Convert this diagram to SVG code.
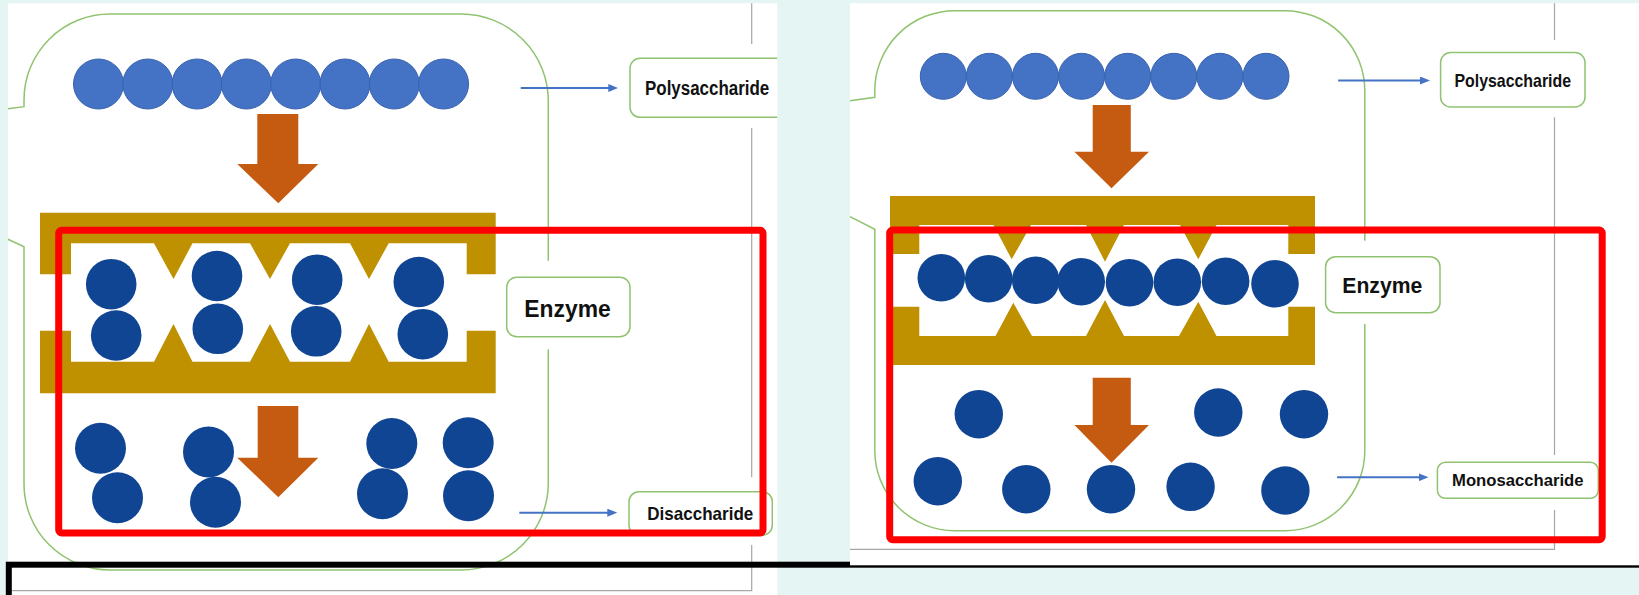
<svg xmlns="http://www.w3.org/2000/svg" width="1639" height="595" viewBox="0 0 1639 595">
  <style>
    .panel { fill: #ffffff; }
    .frame { stroke: #a6a6a6; stroke-width: 1.2; fill: none; }
    .callout { stroke: #8fc36f; stroke-width: 1.5; fill: none; }
    .label { fill: #ffffff; stroke: #8fc36f; stroke-width: 1.5; }
    .txt { font-family: "Liberation Sans", Arial, sans-serif; font-weight: bold; fill: #111111; }
    .poly { fill: #4472c4; stroke: #3862ad; stroke-width: 1; }
    .dark { fill: #104594; }
    .enzyme { fill: #bf9000; }
    .flow { fill: #c55a11; }
    .link { stroke: #4472c4; stroke-width: 2; fill: none; marker-end: url(#tip); }
    .focus { fill: none; stroke: #ff0000; stroke-width: 7; stroke-linejoin: round; }
  </style>
  <defs>
    <marker id="tip" viewBox="0 0 10 8" refX="4" refY="4" markerWidth="10" markerHeight="8" markerUnits="userSpaceOnUse" orient="auto">
      <path d="M0,0 L10,4 L0,8 Z" fill="#4472c4"/>
    </marker>
  </defs>

  <!-- page background -->
  <rect x="0" y="0" width="1639" height="595" fill="#e5f5f4"/>

  <!-- ===== left panel: polysaccharide to disaccharide ===== -->
  <rect class="panel" x="8" y="3.3" width="769.3" height="591.7"/>
  <g id="left-frame" class="frame">
    <path d="M751.7,3.3 V44 M751.7,128 V477.3 M751.7,545 V590.7 H11.7"/>
  </g>
  <g id="left-callout" class="callout">
    <path d="M548.3,260.7 V101 A87,87 0 0 0 461.3,14 H110 A86,86 0 0 0 24,100 V106.7 L8,108.7"/>
    <path d="M8,239.3 L24,246.7 V484 A86,86 0 0 0 110,570 H461.3 A87,87 0 0 0 548.3,483 V349.3"/>
  </g>

  <g id="left-polysaccharide-label">
    <path class="label" d="M777.3,58.3 H640 A10,10 0 0 0 630,68.3 V107.3 A10,10 0 0 0 640,117.3 H777.3"/>
    <text class="txt" x="645" y="95" font-size="19.5" textLength="124.3" lengthAdjust="spacingAndGlyphs">Polysaccharide</text>
  </g>
  <g id="left-enzyme-label">
    <rect class="label" x="506.7" y="277.3" width="123.3" height="59.4" rx="10"/>
    <text class="txt" x="524.3" y="316.7" font-size="24" textLength="86.4" lengthAdjust="spacingAndGlyphs">Enzyme</text>
  </g>
  <g id="left-disaccharide-label">
    <rect class="label" x="629" y="491.7" width="143.3" height="43.5" rx="10"/>
    <text class="txt" x="647.3" y="520" font-size="18.5" textLength="106" lengthAdjust="spacingAndGlyphs">Disaccharide</text>
  </g>

  <g id="left-chain">
    <circle class="poly" cx="98.5" cy="84" r="25"/>
    <circle class="poly" cx="147.8" cy="84" r="25"/>
    <circle class="poly" cx="197.1" cy="84" r="25"/>
    <circle class="poly" cx="246.4" cy="84" r="25"/>
    <circle class="poly" cx="295.7" cy="84" r="25"/>
    <circle class="poly" cx="345" cy="84" r="25"/>
    <circle class="poly" cx="394.3" cy="84" r="25"/>
    <circle class="poly" cx="443.6" cy="84" r="25"/>
  </g>
  <g id="left-step-1">
    <path class="flow" d="M257.3,114 H298.3 V164 H318.3 L278.3,203.3 L237.3,164 H257.3 Z"/>
  </g>
  <g id="left-enzyme">
    <path class="enzyme" d="M40,212.7 H495.7 V274.3 H466.7 V243.3 H388.7 L369,279 L350,243.3 H290 L270,279 L250,243.3 H192.5 L173.5,279 L154,243.3 H71 V274.3 H40 Z"/>
    <path class="enzyme" d="M40,330.7 H71 V361.7 H154 L173.5,324 L192.5,361.7 H250 L270,324 L290,361.7 H350 L369,324 L388.7,361.7 H466.7 V330.7 H495.7 V393.3 H40 Z"/>
  </g>
  <g id="left-bound-pairs">
    <circle class="dark" cx="111.2" cy="284.2" r="25.3"/>
    <circle class="dark" cx="116.2" cy="335.5" r="25.3"/>
    <circle class="dark" cx="217" cy="276" r="25.3"/>
    <circle class="dark" cx="217.8" cy="328.8" r="25.3"/>
    <circle class="dark" cx="317.2" cy="279.7" r="25.3"/>
    <circle class="dark" cx="316.2" cy="331.3" r="25.3"/>
    <circle class="dark" cx="418.8" cy="282" r="25.3"/>
    <circle class="dark" cx="422.8" cy="334.2" r="25.3"/>
  </g>
  <g id="left-step-2">
    <path class="flow" d="M257.7,406 H298.3 V457.7 H318.3 L278.3,497.3 L237.3,457.7 H257.7 Z"/>
  </g>
  <g id="left-free-pairs">
    <circle class="dark" cx="100.5" cy="448.3" r="25.5"/>
    <circle class="dark" cx="117.5" cy="497.8" r="25.5"/>
    <circle class="dark" cx="208.5" cy="452" r="25.5"/>
    <circle class="dark" cx="215.5" cy="502.2" r="25.5"/>
    <circle class="dark" cx="391.8" cy="443.5" r="25.5"/>
    <circle class="dark" cx="382.5" cy="493.8" r="25.5"/>
    <circle class="dark" cx="468.2" cy="442.8" r="25.5"/>
    <circle class="dark" cx="468.5" cy="495.8" r="25.5"/>
  </g>

  <g id="left-connectors">
    <line class="link" x1="520.7" y1="88" x2="612.3" y2="88"/>
    <line class="link" x1="519.3" y1="512.7" x2="611.3" y2="512.7"/>
  </g>

  <rect id="left-highlight" class="focus" x="58.7" y="230.3" width="704.3" height="302.7" rx="3"/>

  <!-- outline across the lower edge -->
  <rect id="lower-outline" x="8.8" y="564.7" width="1700" height="100" fill="none" stroke="#000000" stroke-width="6"/>

  <!-- ===== right panel: polysaccharide to monosaccharide ===== -->
  <rect class="panel" x="850" y="3.3" width="789" height="562"/>
  <g id="right-frame" class="frame">
    <path d="M1554.5,3.3 V40 M1554.5,117.3 V455 M1554.5,510 V549.3 H850"/>
  </g>
  <g id="right-callout" class="callout">
    <path d="M1364.8,240.7 V90.7 A80,80 0 0 0 1284.8,10.7 H954.8 A80,80 0 0 0 874.8,90.7 V97.3 L850,100.7"/>
    <path d="M850,216.7 L874.8,229.3 V450.7 A80,80 0 0 0 954.8,530.7 H1284.8 A80,80 0 0 0 1364.8,450.7 V324"/>
  </g>

  <g id="right-polysaccharide-label">
    <rect class="label" x="1440.6" y="52.5" width="144.4" height="54.4" rx="10"/>
    <text class="txt" x="1454.5" y="86.7" font-size="18.5" textLength="116.5" lengthAdjust="spacingAndGlyphs">Polysaccharide</text>
  </g>
  <g id="right-enzyme-label">
    <rect class="label" x="1325.6" y="256.7" width="114.4" height="56" rx="10"/>
    <text class="txt" x="1342.3" y="293.3" font-size="22" textLength="80" lengthAdjust="spacingAndGlyphs">Enzyme</text>
  </g>
  <g id="right-monosaccharide-label">
    <rect class="label" x="1437.4" y="462.3" width="160.9" height="36" rx="8"/>
    <text class="txt" x="1452" y="486" font-size="16.5" textLength="131.6" lengthAdjust="spacingAndGlyphs">Monosaccharide</text>
  </g>

  <g id="right-chain">
    <circle class="poly" cx="943.3" cy="76.3" r="23"/>
    <circle class="poly" cx="989.4" cy="76.3" r="23"/>
    <circle class="poly" cx="1035.5" cy="76.3" r="23"/>
    <circle class="poly" cx="1081.6" cy="76.3" r="23"/>
    <circle class="poly" cx="1127.7" cy="76.3" r="23"/>
    <circle class="poly" cx="1173.8" cy="76.3" r="23"/>
    <circle class="poly" cx="1219.9" cy="76.3" r="23"/>
    <circle class="poly" cx="1266" cy="76.3" r="23"/>
  </g>
  <g id="right-step-1">
    <path class="flow" d="M1092.7,105 H1130.8 V151.7 H1149 L1111.5,188.3 L1074.4,151.7 H1092.7 Z"/>
  </g>
  <g id="right-enzyme">
    <path class="enzyme" d="M890,196 H1315 V254 H1288.3 V225 H1216.5 L1198.3,259.3 L1180,225 H1124 L1105,261.7 L1086,225 H1031 L1011.7,259.3 L993.5,225 H919.3 V254 H890 Z"/>
    <path class="enzyme" d="M890,306.7 H919.3 V336 H995.5 L1013.3,302.7 L1032,336 H1086 L1105,300 L1124,336 H1179 L1198.3,301.7 L1216.5,336 H1288.3 V306.7 H1315 V365 H890 Z"/>
  </g>
  <g id="right-bound-chain">
    <circle class="dark" cx="941.3" cy="277.8" r="23.8"/>
    <circle class="dark" cx="988.7" cy="278.8" r="23.8"/>
    <circle class="dark" cx="1035.7" cy="280.3" r="23.8"/>
    <circle class="dark" cx="1081.2" cy="281.7" r="23.8"/>
    <circle class="dark" cx="1129.5" cy="282.7" r="23.8"/>
    <circle class="dark" cx="1177.3" cy="282.2" r="23.8"/>
    <circle class="dark" cx="1225.6" cy="281.2" r="23.8"/>
    <circle class="dark" cx="1275" cy="283.8" r="23.8"/>
  </g>
  <g id="right-step-2">
    <path class="flow" d="M1092.7,377.7 H1130.8 V425 H1149 L1111.5,462.7 L1074.4,425 H1092.7 Z"/>
  </g>
  <g id="right-free-units">
    <circle class="dark" cx="978.8" cy="414.2" r="24.2"/>
    <circle class="dark" cx="1218.3" cy="412.5" r="24.2"/>
    <circle class="dark" cx="1304" cy="414.2" r="24.2"/>
    <circle class="dark" cx="937.8" cy="481.2" r="24.2"/>
    <circle class="dark" cx="1026.3" cy="489.2" r="24.2"/>
    <circle class="dark" cx="1111" cy="489.2" r="24.2"/>
    <circle class="dark" cx="1190.6" cy="486.8" r="24.2"/>
    <circle class="dark" cx="1285.4" cy="490.5" r="24.2"/>
  </g>

  <g id="right-connectors">
    <line class="link" x1="1338.2" y1="80.5" x2="1424" y2="80.5"/>
    <line class="link" x1="1337.1" y1="477.3" x2="1422.5" y2="477.3"/>
  </g>

  <rect id="right-highlight" class="focus" x="889.7" y="230" width="712.5" height="309.7" rx="3"/>
</svg>
